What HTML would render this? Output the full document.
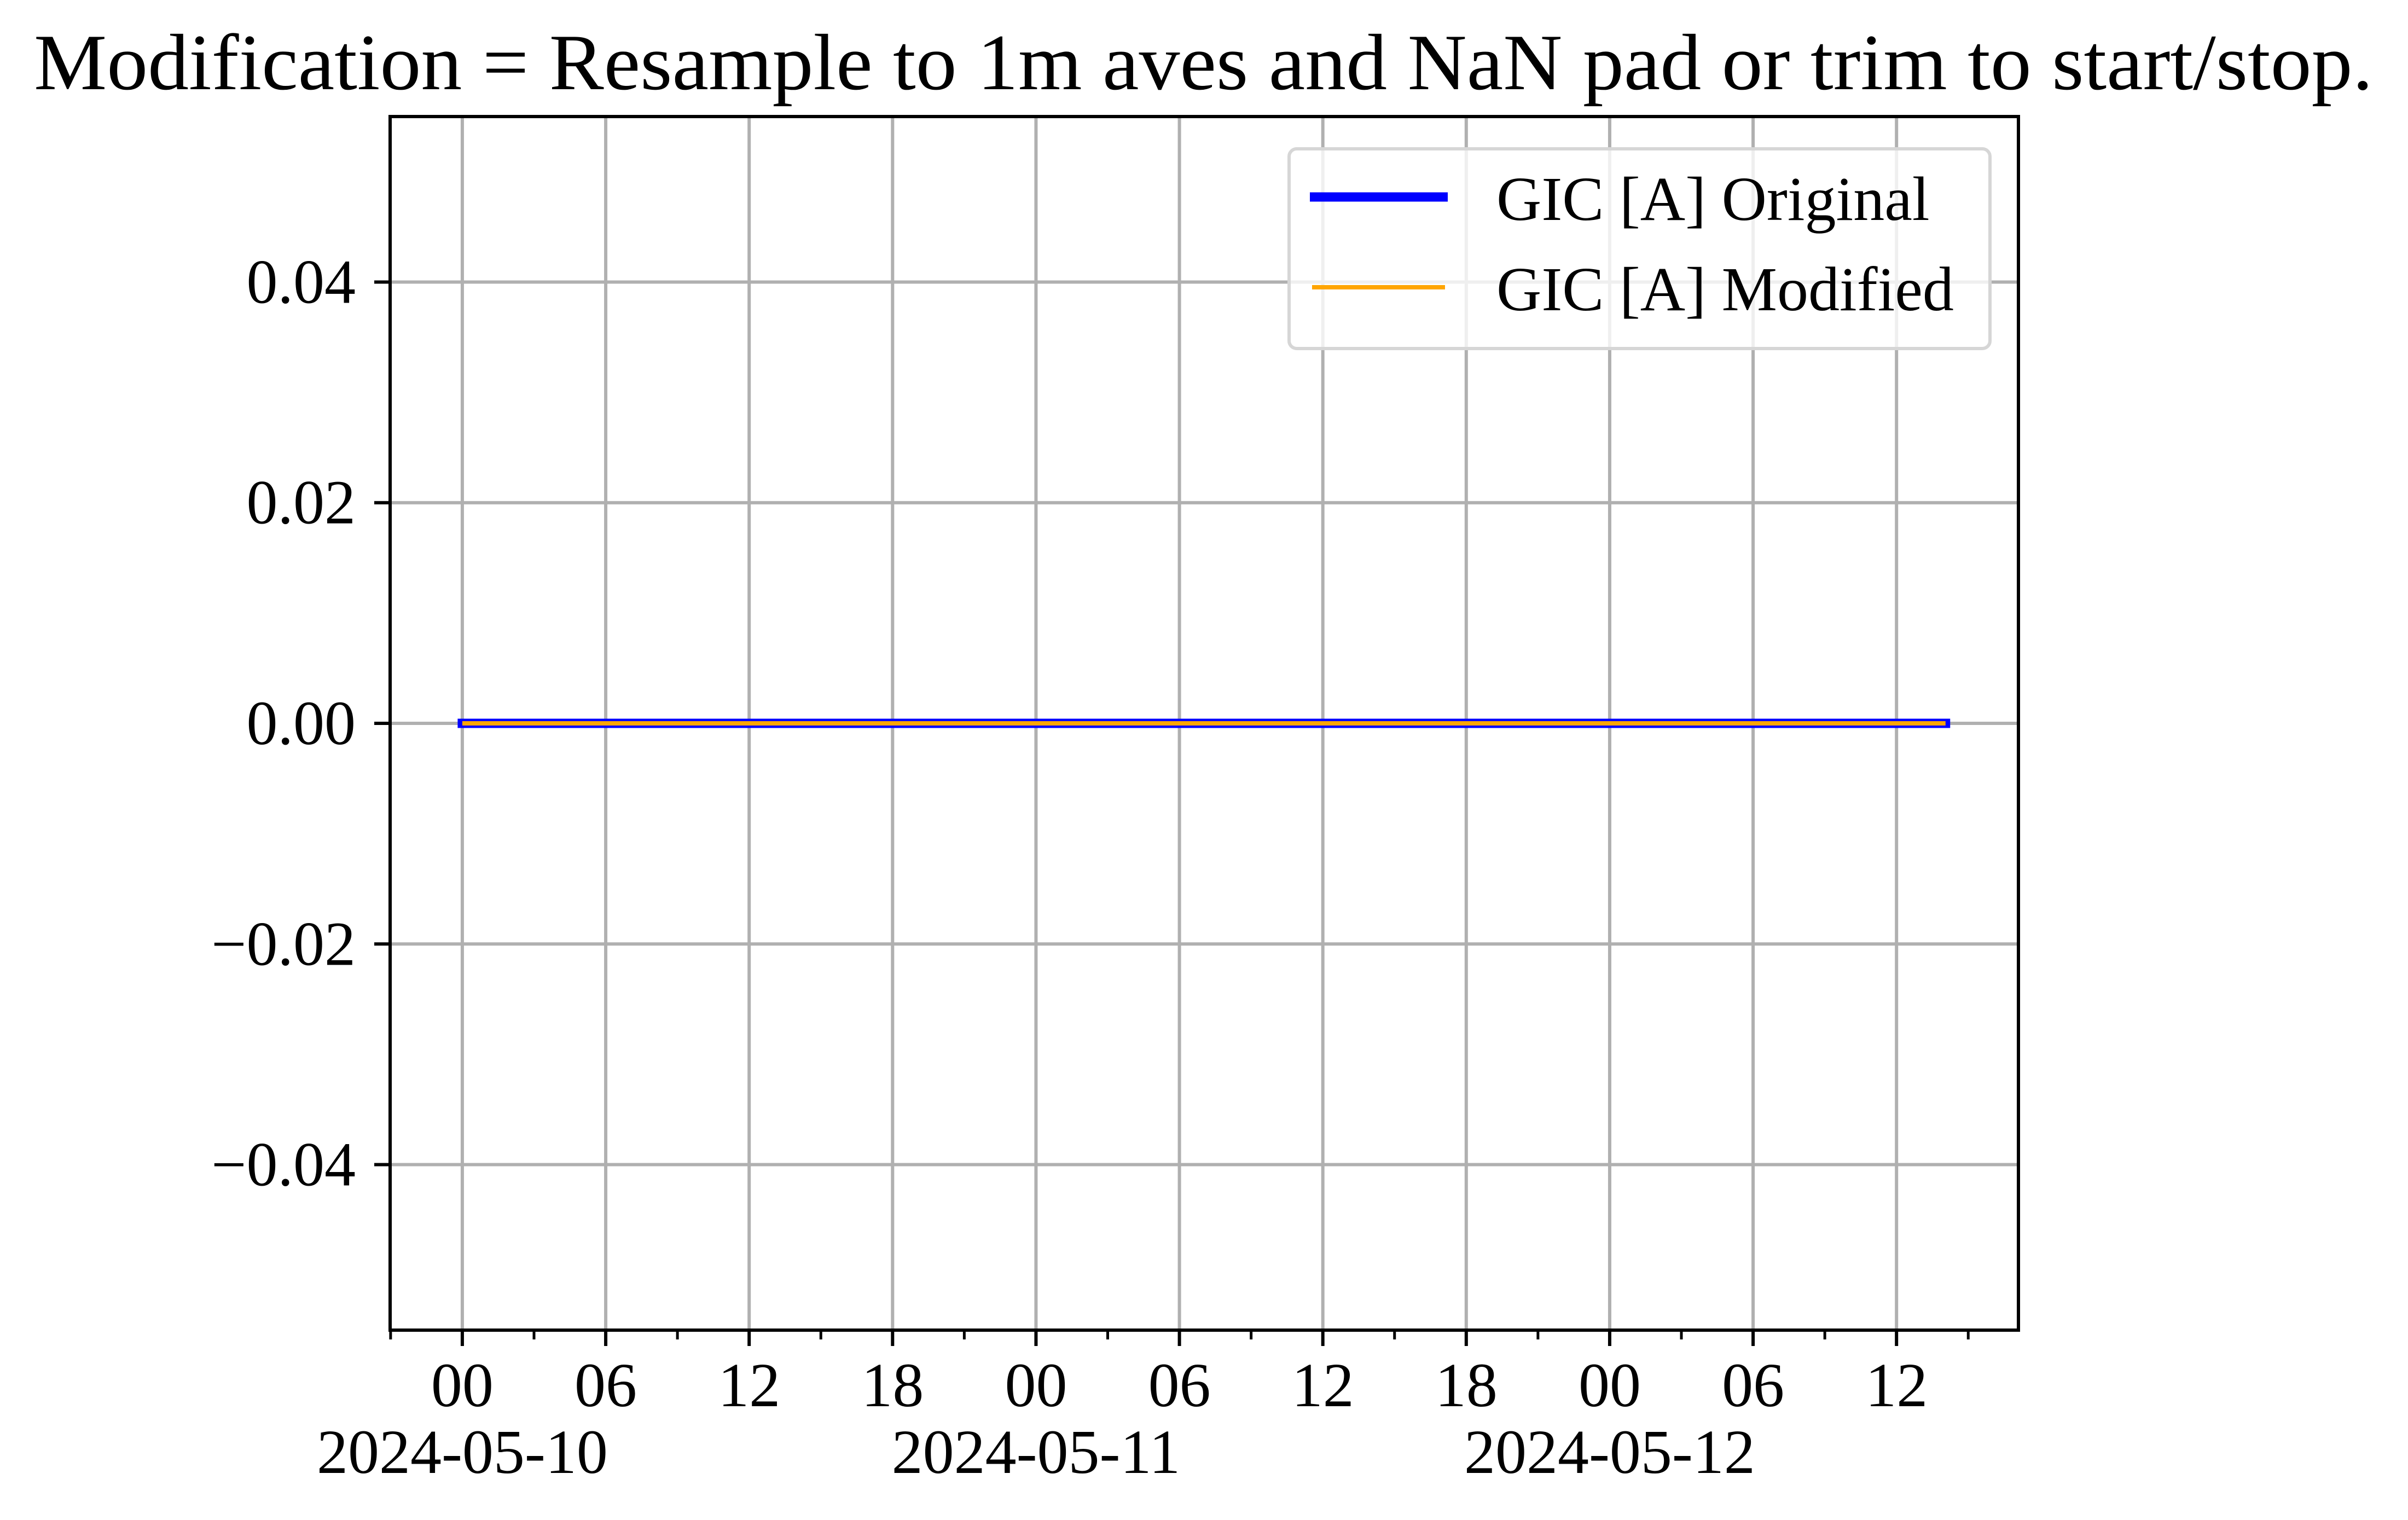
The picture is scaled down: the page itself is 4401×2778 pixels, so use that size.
<!DOCTYPE html>
<html><head><meta charset="utf-8"><style>
html,body{margin:0;padding:0;background:#fff;}
svg{display:block;font-family:"Liberation Serif",serif;}
</style></head><body>
<svg id="chart" width="4401" height="2778" viewBox="0 0 4401 2778" xmlns="http://www.w3.org/2000/svg">
<rect width="4401" height="2778" fill="#fff"/>
<text x="62" y="163" font-size="146" textLength="4275" lengthAdjust="spacingAndGlyphs">Modification = Resample to 1m aves and NaN pad or trim to start/stop.</text>
<g id="grid"></g>
<g id="series"></g>
<g id="axes"></g>
<g>
<rect x="2356" y="272" width="1281" height="365" rx="14" fill="#fff" fill-opacity="0.8" stroke="#d6d6d6" stroke-width="6"/>
<line x1="2394" y1="360" x2="2646" y2="360" stroke="#0000ff" stroke-width="17"/>
<text x="2735" y="402" font-size="114">GIC [A] Original</text>
<line x1="2398" y1="525" x2="2641" y2="525" stroke="#ffa500" stroke-width="8"/>
<text x="2735" y="567" font-size="114">GIC [A] Modified</text>
</g>
</svg>
<script>
// data (hours since 2024-05-10 00:00)
const xMajorHours = [0,6,12,18,24,30,36,42,48,54,60];
const xMajorLabels = ["00","06","12","18","00","06","12","18","00","06","12"];
const xMinorHours = [-3,3,9,15,21,27,33,39,45,51,57,63];
const dateHours = [0,24,48];
const dateLabels = ["2024-05-10","2024-05-11","2024-05-12"];
const yTicks = [-0.04,-0.02,0.00,0.02,0.04];
const yLabels = ["\u22120.04","\u22120.02","0.00","0.02","0.04"];
const originalX = [0,62.05];
const originalY = [0,0];
const modifiedX = [0,62.05];
const modifiedY = [0,0];

const L=713,R=3689,T=213,B=2431;
const xMin=-3.02,xMax=65.1,yMin=-0.055,yMax=0.055;
const sx=h=>L+(h-xMin)/(xMax-xMin)*(R-L);
const sy=v=>B-(v-yMin)/(yMax-yMin)*(B-T);
const NS="http://www.w3.org/2000/svg";
function mk(tag,attrs,parent,txt){const e=document.createElementNS(NS,tag);for(const k in attrs)e.setAttribute(k,attrs[k]);if(txt!==undefined)e.textContent=txt;parent.appendChild(e);return e;}
const grid=document.getElementById('grid'),axes=document.getElementById('axes'),series=document.getElementById('series');

xMajorHours.forEach((h,i)=>{
  const x=sx(h);
  const g=mk('line',{x1:x,y1:T,x2:x,y2:B,stroke:'#b0b0b0','stroke-width':6},grid);
  
  
  const t=mk('line',{x1:x,y1:B,x2:x,y2:B+29,stroke:'#000','stroke-width':6},axes);
  
  
  const l=mk('text',{x:x,y:2570,'font-size':114,'text-anchor':'middle'},axes,xMajorLabels[i]);
  
  
});
xMinorHours.forEach(h=>{
  const x=sx(h);
  const t=mk('line',{x1:x,y1:B,x2:x,y2:B+17,stroke:'#000','stroke-width':5},axes);
  
  
});
dateHours.forEach((h,i)=>{
  const l=mk('text',{x:sx(h),y:2692,'font-size':114,'text-anchor':'middle'},axes,dateLabels[i]);
  
  
});
yTicks.forEach((v,i)=>{
  const y=sy(v);
  const g=mk('line',{x1:L,y1:y,x2:R,y2:y,stroke:'#b0b0b0','stroke-width':6},grid);
  
  
  const t=mk('line',{x1:L-29,y1:y,x2:L,y2:y,stroke:'#000','stroke-width':6},axes);
  
  
  const l=mk('text',{x:650,y:y+38,'font-size':114,'text-anchor':'end'},axes,yLabels[i]);
  
  
});
const po=mk('polyline',{points:originalX.map((x,i)=>sx(x)+','+sy(originalY[i])).join(' '),fill:'none',stroke:'#0000ff','stroke-width':17,'stroke-linecap':'square'},series);


const pm=mk('polyline',{points:modifiedX.map((x,i)=>sx(x)+','+sy(modifiedY[i])).join(' '),fill:'none',stroke:'#ffa500','stroke-width':8},series);


const fr=mk('rect',{x:L,y:T,width:R-L,height:B-T,fill:'none',stroke:'#000','stroke-width':6},axes);


</script>
</body></html>
